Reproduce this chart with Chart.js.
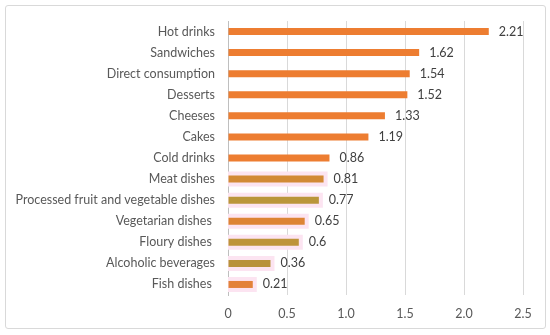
<!DOCTYPE html>
<html>
<head>
<meta charset="utf-8">
<script src="https://cdn.jsdelivr.net/npm/chart.js@4/dist/chart.umd.min.js"></script>
<style>
    html, body { margin: 0; padding: 0; background: #fff; }
    #box {
        position: absolute; left: 5px; top: 5px;
        width: 539px; height: 322px;
        border: 1px solid #d9d9d9; border-radius: 3px;
    }
    canvas { display: block; position: absolute; left: 0; top: 0; }
</style>
</head>
<body>
<div id="box"><canvas id="c" width="539" height="327"></canvas></div>
<script>
// Catégories et valeurs
const categories = [
    'Hot drinks', 'Sandwiches', 'Direct consumption', 'Desserts', 'Cheeses',
    'Cakes', 'Cold drinks', 'Meat dishes', 'Processed fruit and vegetable dishes',
    'Vegetarian dishes ', 'Floury dishes ', 'Alcoholic beverages', 'Fish dishes '
];
const values = [2.21, 1.62, 1.54, 1.52, 1.33, 1.19, 0.86, 0.81, 0.77, 0.65, 0.6, 0.36, 0.21];
const barColors = [
    '#ED7D31', '#ED7D31', '#ED7D31', '#ED7D31', '#ED7D31', '#ED7D31', '#ED7D31',
    '#D28A35', '#BA963A', '#DD8434', '#BE943A', '#B8923A', '#E3823A'
];
// Surlignage rose sur les dernières lignes
const highlighted = [false, false, false, false, false, false, false, true, true, true, true, true, true];
const xTicks = [0, 0.5, 1, 1.5, 2, 2.5];

const FONT = 'Lato, "Open Sans", sans-serif';

const valueLabels = {
    id: 'valueLabels',
    afterDatasetsDraw(chart) {
        const ctx = chart.ctx;
        const meta = chart.getDatasetMeta(1);
        ctx.save();
        ctx.font = '12.5px ' + FONT;
        ctx.fillStyle = '#404040';
        ctx.textAlign = 'left';
        ctx.textBaseline = 'middle';
        meta.data.forEach((bar, i) => {
            ctx.fillText(String(values[i]), bar.x + 10, bar.y);
        });
        ctx.restore();
    }
};

new Chart(document.getElementById('c'), {
    type: 'bar',
    data: {
        labels: categories,
        datasets: [
            {
                label: 'halo',
                data: values.map((v, i) => highlighted[i] ? v : null),
                backgroundColor: '#FCE4F1',
                barThickness: 7,
                inflateAmount: 4,
                grouped: false,
                order: 2,
            },
            {
                label: 'Valeur',
                data: values,
                backgroundColor: barColors,
                barThickness: 7,
                inflateAmount: 0,
                grouped: false,
                order: 1,
            },
        ],
    },
    options: {
        indexAxis: 'y',
        responsive: false,
        animation: false,
        layout: { padding: { top: 15, right: 22, bottom: 1, left: 8 } },
        plugins: {
            legend: { display: false },
            tooltip: { enabled: false },
        },
        scales: {
            x: {
                min: 0,
                max: 2.5,
                afterBuildTicks: (axis) => { axis.ticks = xTicks.map(v => ({ value: v })); },
                grid: { color: '#d9d9d9', drawTicks: false },
                border: { display: false },
                ticks: {
                    color: '#595959',
                    font: { family: FONT, size: 12.5 },
                    padding: 11,
                    maxRotation: 0,
                },
            },
            y: {
                grid: { display: false, drawTicks: false },
                border: { color: '#bfbfbf' },
                afterFit: (axis) => {
                    axis.width = 214;
                    axis.paddingTop = 0;
                    axis.paddingBottom = 0;
                },
                ticks: {
                    color: '#595959',
                    font: { family: FONT, size: 12.5 },
                    padding: 13,
                    autoSkip: false,
                },
            },
        },
    },
    plugins: [valueLabels],
});
</script>
</body>
</html>
